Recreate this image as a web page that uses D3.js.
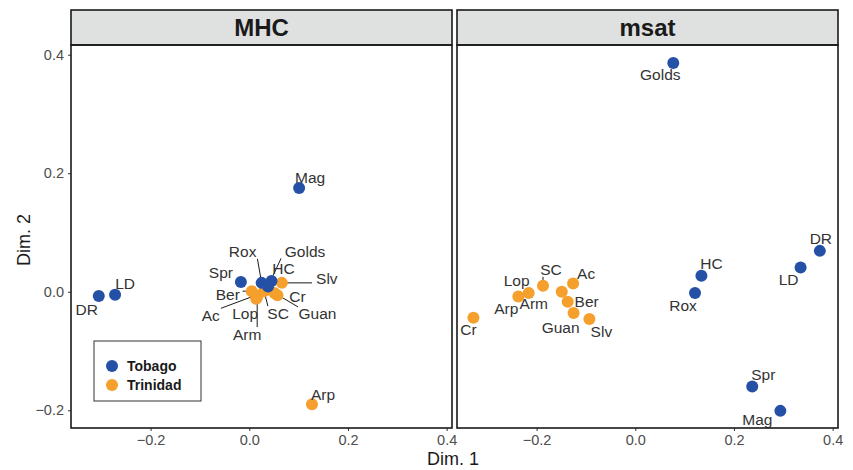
<!DOCTYPE html>
<html>
<head>
<meta charset="utf-8">
<script src="https://cdn.jsdelivr.net/npm/d3@7"></script>
<style>
  body { margin: 0; background: #fff; }
  svg { font-family: "Liberation Sans", Arial, sans-serif; }
</style>
</head>
<body>
<div id="chart"></div>
<script>
// sites and their island
const sites  = ['DR', 'LD', 'Spr', 'Mag', 'Rox', 'Golds', 'HC', 'Arp', 'Ber', 'Ac', 'Lop', 'Arm', 'SC', 'Cr', 'Guan', 'Slv'];
const island = ['Tobago', 'Tobago', 'Tobago', 'Tobago', 'Tobago', 'Tobago', 'Tobago',
                'Trinidad', 'Trinidad', 'Trinidad', 'Trinidad', 'Trinidad', 'Trinidad', 'Trinidad', 'Trinidad', 'Trinidad'];

// MDS coordinates
const mhcDim1  = [-0.305, -0.272, -0.017, 0.101, 0.025, 0.038, 0.045, 0.127, 0.005, 0.013, 0.014, 0.016, 0.030, 0.057, 0.051, 0.066];
const mhcDim2  = [-0.007, -0.005, 0.0165, 0.175, 0.015, 0.009, 0.018, -0.190, 0.001, -0.006, -0.012, -0.009, 0.001, -0.006, -0.002, 0.015];
const msatDim1 = [0.374, 0.335, 0.237, 0.294, 0.121, 0.077, 0.134, -0.237, -0.137, -0.126, -0.216, -0.149, -0.187, -0.328, -0.125, -0.093];
const msatDim2 = [0.069, 0.041, -0.160, -0.201, -0.002, 0.386, 0.027, -0.008, -0.017, 0.014, -0.002, 0.000, 0.010, -0.044, -0.036, -0.046];

const panels = ['MHC', 'msat'];
const islands = ['Tobago', 'Trinidad'];
const xTicks = [-0.2, 0.0, 0.2, 0.4];
const yTicks = [-0.2, 0.0, 0.2, 0.4];

// label placement (repel result), pixel offsets from point; seg = draw leader line
const labelNudge = {
  MHC: {
    DR: [-12, 14], LD: [10, -11], Spr: [-20, -9], Mag: [11, -11], Arp: [11, -10],
    Rox: [-19, -31, true], Golds: [37, -35, true], HC: [12, -13], Slv: [45, -4, true],
    Cr: [20, 1], Guan: [43, 21, true], SC: [14, 22, true], Ber: [-24, 3, true],
    Ac: [-45, 20, true], Lop: [-11, 15], Arm: [-10, 37, true]
  },
  msat: {
    Golds: [-13, 11], HC: [10, -12], Rox: [-12, 13], LD: [-12, 12], DR: [1, -12],
    Spr: [11, -12], Mag: [-23, 9], Cr: [-5, 12], Arp: [-12, 12], Lop: [-12, -12],
    SC: [8, -16, true], Ac: [13, -10], Arm: [-28, 12], Ber: [19, 0], Guan: [-13, 14], Slv: [12, 12]
  }
};

const width = 853, height = 470;
const color = d3.scaleOrdinal().domain(islands).range(['#2450a6', '#f59f2c']);

const svg = d3.select('#chart').append('svg')
  .attr('width', width)
  .attr('height', height);

const panelW = 381, panelTop = 45, panelBottom = 428, stripTop = 10;
const panelLeft = { MHC: 71, msat: 457 };

const y = d3.scaleLinear().domain([-0.2299, 0.4164]).range([panelBottom, panelTop]);

const coords = {
  MHC: sites.map((s, i) => ({ site: s, island: island[i], x: mhcDim1[i], y: mhcDim2[i] })),
  msat: sites.map((s, i) => ({ site: s, island: island[i], x: msatDim1[i], y: msatDim2[i] }))
};

const fmt = d => d3.format('.1f')(d).replace('-', '\u2212');

panels.forEach(p => {
  const left = panelLeft[p];
  const x = d3.scaleLinear().domain([-0.3613, 0.4108]).range([left, left + panelW]);
  const g = svg.append('g');

  // strip
  g.append('rect')
    .attr('x', left).attr('y', stripTop)
    .attr('width', panelW).attr('height', panelTop - stripTop)
    .attr('fill', '#dfe0e0').attr('stroke', '#1a1a1a').attr('stroke-width', 1.6);
  g.append('text')
    .attr('x', left + panelW / 2).attr('y', (stripTop + panelTop) / 2)
    .attr('text-anchor', 'middle').attr('dominant-baseline', 'central')
    .attr('font-size', 24).attr('font-weight', 'bold').attr('fill', '#1a1a1a')
    .text(p);

  // x axis
  const xAxis = g.append('g')
    .attr('transform', `translate(0,${panelBottom})`)
    .call(d3.axisBottom(x).tickValues(xTicks).tickSize(3).tickPadding(4).tickFormat(fmt));
  xAxis.select('.domain').remove();
  xAxis.selectAll('line').attr('stroke', '#333');
  xAxis.selectAll('text').attr('font-size', 14.5).attr('fill', '#4d4d4d')
    .attr('font-family', '"Liberation Sans", Arial, sans-serif');

  if (p === 'MHC') {
    const yAxis = g.append('g')
      .attr('transform', `translate(${left},0)`)
      .call(d3.axisLeft(y).tickValues(yTicks).tickSize(3).tickPadding(4).tickFormat(fmt));
    yAxis.select('.domain').remove();
    yAxis.selectAll('line').attr('stroke', '#333');
    yAxis.selectAll('text').attr('font-size', 14.5).attr('fill', '#4d4d4d')
      .attr('font-family', '"Liberation Sans", Arial, sans-serif');
  }

  const data = coords[p];
  const nudge = labelNudge[p];

  const fs = 15.5;
  const lab = data.map(d => {
    const n = nudge[d.site];
    return { ...d, px: x(d.x), py: y(d.y), lx: x(d.x) + n[0], ly: y(d.y) + n[1], seg: !!n[2] };
  });

  // leader segments
  g.selectAll('line.seg')
    .data(lab.filter(d => d.seg))
    .enter().append('line')
    .attr('class', 'seg')
    .attr('x1', d => d.px).attr('y1', d => d.py)
    .attr('x2', d => {
      const hw = d.site.length * 4.6 + 1;
      return Math.max(d.lx - hw, Math.min(d.px, d.lx + hw));
    })
    .attr('y2', d => Math.max(d.ly - 7, Math.min(d.py, d.ly + 7)))
    .attr('stroke', '#1a1a1a').attr('stroke-width', 1);

  // points: Trinidad under Tobago
  const ordered = lab.filter(d => d.island === 'Trinidad').concat(lab.filter(d => d.island === 'Tobago'));
  g.selectAll('circle.pt')
    .data(ordered)
    .enter().append('circle')
    .attr('class', 'pt')
    .attr('cx', d => d.px).attr('cy', d => d.py)
    .attr('r', 6)
    .attr('fill', d => color(d.island));

  g.selectAll('text.lab')
    .data(lab)
    .enter().append('text')
    .attr('class', 'lab')
    .attr('x', d => d.lx).attr('y', d => d.ly)
    .attr('text-anchor', 'middle').attr('dominant-baseline', 'central')
    .attr('font-size', fs).attr('fill', '#333')
    .text(d => d.site);

  // panel border
  g.append('rect')
    .attr('x', left).attr('y', panelTop)
    .attr('width', panelW).attr('height', panelBottom - panelTop)
    .attr('fill', 'none').attr('stroke', '#1a1a1a').attr('stroke-width', 1.6);
});

// axis titles
svg.append('text')
  .attr('x', 453).attr('y', 459)
  .attr('text-anchor', 'middle').attr('dominant-baseline', 'central')
  .attr('font-size', 18).attr('fill', '#1a1a1a')
  .text('Dim. 1');
svg.append('text')
  .attr('transform', 'translate(24,240) rotate(-90)')
  .attr('text-anchor', 'middle').attr('dominant-baseline', 'central')
  .attr('font-size', 18).attr('fill', '#1a1a1a')
  .text('Dim. 2');

// legend
const legend = svg.append('g').attr('transform', 'translate(94,341)');
legend.append('rect')
  .attr('width', 107).attr('height', 60)
  .attr('fill', '#fff').attr('stroke', '#333').attr('stroke-width', 1);
legend.selectAll('circle')
  .data(islands)
  .enter().append('circle')
  .attr('cx', 18).attr('cy', (d, i) => 25 + i * 19)
  .attr('r', 6).attr('fill', d => color(d));
legend.selectAll('text')
  .data(islands)
  .enter().append('text')
  .attr('x', 33).attr('y', (d, i) => 25 + i * 19)
  .attr('dominant-baseline', 'central')
  .attr('font-size', 14).attr('font-weight', 'bold').attr('fill', '#1a1a1a')
  .text(d => d);
</script>
</body>
</html>
